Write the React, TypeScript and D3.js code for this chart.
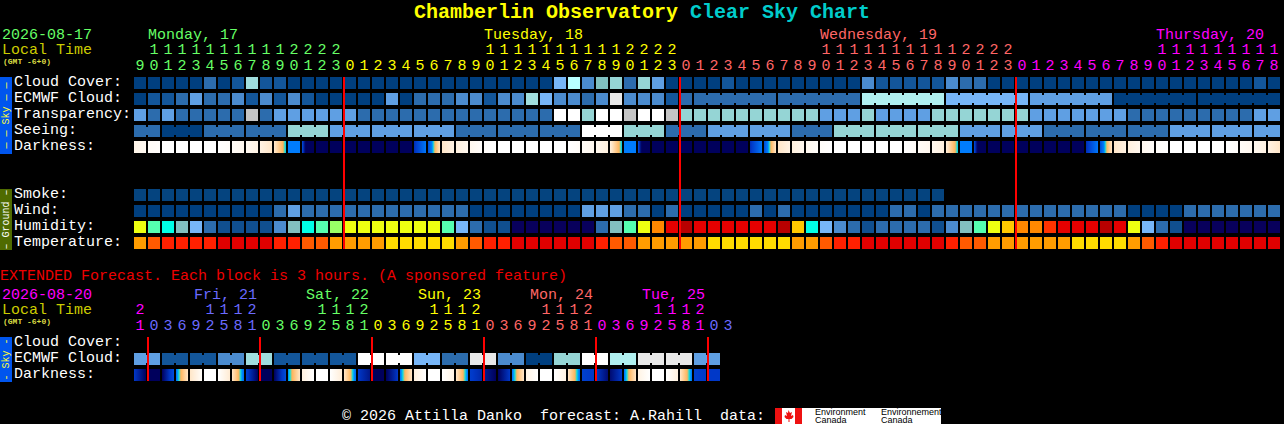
import React from "react";
import * as d3 from "d3";

const WIDTH = 1284;
const HEIGHT = 424;
const MONO = "'Liberation Mono', monospace";

// level -> colour, shared by the sky rows
const LEVEL_COLORS = [
  "#003f7f", "#13569a", "#2c6cad", "#4b8bce", "#5f9fe3", "#77b6f8", "#80c0c0",
  "#95d5d5", "#a0dede", "#b0f0f0", "#e8e8e8", "#c4c4c4", "#ffffff", "#b8ffff", "#05447f",
];
const HUMIDITY_COLORS = [
  "#08005c", "#104f8f", "#2c6cad", "#4b8bce", "#77b6f8", "#82bfbf", "#00ffe6", "#55ffb0",
  "#99ff66", "#eeff11", "#ffc800", "#ff8800", "#ff3300", "#e60000", "#b80000",
];
const TEMPERATURE_COLORS = ["#e00000", "#ff2000", "#ff5a00", "#ff9c00", "#ffdc00"];
const DARKNESS_COLORS = ["#ffffff", "#ffe6c8", "#ffb45a", "#00e4e4", "#0080ff", "#0038c8", "#00005c"];
const DARKNESS_STEPS = [0, 1, 2.6, 3, 3.4, 5, 6];

const hours = [
  9, 10, 11, 12, 13, 14, 15, 16, 17, 18, 19, 20, 21, 22, 23,
  0, 1, 2, 3, 4, 5, 6, 7, 8, 9, 10, 11, 12, 13, 14, 15, 16, 17, 18, 19, 20, 21, 22, 23,
  0, 1, 2, 3, 4, 5, 6, 7, 8, 9, 10, 11, 12, 13, 14, 15, 16, 17, 18, 19, 20, 21, 22, 23,
  0, 1, 2, 3, 4, 5, 6, 7, 8, 9, 10, 11, 12, 13, 14, 15, 16, 17, 18,
];
const dayNames = ["Monday, 17", "Tuesday, 18", "Wednesday, 19", "Thursday, 20"];
const dayColors = ["#66ff66", "#ffff00", "#ff6666", "#ff00ff"];

const cloudCover = [
  0, 0, 0, 0, 0, 2, 0, 1, 8, 1, 1, 0, 0, 0, 0,
  0, 0, 0, 0, 0, 0, 0, 0, 0, 0, 0, 0, 0, 0, 0, 5, 13, 3, 6, 7, 2, 7, 4, 0,
  0, 0, 0, 1, 0, 0, 0, 0, 0, 0, 0, 0, 0, 3, 1, 1, 1, 1, 1, 3, 2, 2, 0, 0,
  0, 0, 0, 0, 0, 0, 0, 0, 0, 0, 0, 0, 0, 0, 0, 0, 0, 1, 0,
];
const ecmwfCloud = [
  0, 1, 1, 2, 4, 2, 2, 3, 1, 3, 1, 3, 1, 0, 0,
  0, 0, 0, 4, 0, 2, 2, 2, 3, 3, 1, 3, 3, 8, 5, 3, 3, 2, 3, 10, 3, 3, 3, 1,
  2, 2, 2, 2, 2, 2, 2, 2, 2, 2, 2, 2, 2, 9, 9, 9, 9, 9, 9, 5, 5, 5, 5, 5,
  5, 4, 4, 4, 4, 4, 4, 0, 0, 0, 0, 0, 0, 0, 0, 0, 0, 0, 0,
];
const ecmwfBlocks = [
  1, 1, 1, 1, 1, 1, 1, 1, 1, 1, 1, 1, 1, 1, 1, 1, 1, 1, 1, 1,
  1, 1, 1, 1, 1, 1, 1, 1, 1, 1, 1, 1, 1, 1, 1, 1, 1, 1, 1, 1,
  6, 6, 6, 6, 6, 6, 6,
];
const transparency = [
  4, 2, 4, 2, 2, 2, 2, 2, 11, 2, 4, 4, 4, 4, 4,
  4, 2, 2, 2, 2, 2, 2, 2, 2, 2, 2, 2, 2, 2, 2, 12, 12, 7, 12, 12, 11, 12, 12, 11,
  7, 7, 7, 7, 7, 7, 7, 7, 7, 7, 4, 4, 4, 7, 4, 4, 4, 4, 7, 7, 7, 7, 7, 7,
  7, 4, 4, 4, 4, 4, 4, 4, 2, 2, 2, 2, 2, 2, 2, 2, 2, 4, 4,
];
const seeingLevels = [
  2, 0, 2, 2, 7, 4, 4, 4, 2, 2, 2, 12, 7, 2, 4, 4, 2, 7, 7, 7, 4, 4, 2, 2, 2, 4, 4, 4,
];
const seeingBlocks = [
  2, 3, 3, 3, 3, 3, 3, 3, 3, 3, 3, 3, 3, 3, 3, 3, 3, 3, 3, 3, 3, 3, 3, 3, 3, 3, 3, 2,
];
// darkness at the left and right edge of every block
const darknessStart = [
  0.4, 0.15, 0, 0, 0, 0, 0, 0.15, 0.25, 0.5, 0.9, 3.5, 4.5, 6, 6,
  6, 6, 6, 6, 6, 5.2, 4.6, 1, 0.6, 0.3, 0.1, 0, 0, 0, 0, 0, 0, 0.15, 0.3, 0.6, 3.5, 4.5, 6, 6,
  6, 6, 6, 6, 6, 5.2, 4.6, 1, 0.6, 0.3, 0.1, 0, 0, 0, 0, 0, 0, 0.15, 0.3, 0.7, 3.5, 4.5, 6, 6,
  6, 6, 6, 6, 6, 5.2, 4.6, 1, 0.6, 0.3, 0.1, 0, 0, 0, 0, 0, 0.15, 0.3, 0.5,
];
const darknessEnd = [
  0.25, 0.08, 0, 0, 0, 0, 0.1, 0.3, 0.5, 1, 3.15, 3.5, 10, 6, 6,
  6, 6, 6, 6, 6, 3.6, 1, 0.5, 0.3, 0.1, 0, 0, 0, 0, 0, 0, 0.15, 0.3, 0.6, 3.15, 3.5, 10, 6, 6,
  6, 6, 6, 6, 6, 3.6, 1, 0.5, 0.3, 0.1, 0, 0, 0, 0, 0, 0, 0.15, 0.3, 0.6, 3.15, 3.5, 10, 6, 6,
  6, 6, 6, 6, 6, 3.6, 1, 0.5, 0.3, 0.1, 0, 0, 0, 0, 0, 0.1, 0.3, 0.5, 1,
];
const smoke = [
  14, 14, 14, 14, 14, 14, 14, 14, 14, 14, 14, 14, 14, 14, 14,
  14, 14, 14, 14, 14, 14, 14, 14, 14, 14, 14, 14, 14, 14, 14, 14, 14, 14, 14, 14, 14, 14, 14, 14,
  14, 14, 14, 14, 14, 14, 14, 14, 14, 14, 14, 14, 14, 14, 14, 14, 14, 14, 14,
];
const wind = [
  0, 0, 0, 0, 0, 0, 0, 0, 0, 0, 2, 4, 2, 2, 2,
  2, 2, 2, 2, 2, 2, 2, 2, 2, 0, 0, 0, 0, 0, 0, 0, 0, 4, 4, 4, 2, 2, 0, 2,
  0, 0, 0, 0, 0, 2, 0, 2, 0, 0, 0, 0, 0, 0, 0, 2, 2, 0, 2, 2, 2, 2, 2, 2,
  2, 2, 2, 2, 2, 2, 2, 2, 0, 0, 0, 0, 2, 2, 2, 2, 2, 2, 2,
];
const humidity = [
  9, 7, 6, 5, 4, 2, 1, 1, 1, 1, 3, 5, 6, 7, 8,
  9, 9, 9, 9, 9, 9, 9, 7, 4, 2, 1, 1, 0, 0, 0, 0, 0, 0, 2, 5, 7, 9, 11, 13,
  14, 13, 13, 13, 13, 13, 13, 14, 10, 6, 4, 3, 2, 1, 2, 2, 2, 2, 1, 3, 5, 7, 9, 10,
  11, 11, 12, 13, 13, 13, 14, 13, 9, 4, 2, 1, 0, 0, 0, 0, 0, 0, 0,
];
const temperature = [
  3, 2, 1, 1, 1, 1, 0, 0, 0, 0, 1, 1, 2, 2, 3,
  3, 3, 3, 4, 4, 4, 4, 4, 3, 2, 1, 1, 0, 0, 0, 0, 0, 0, 1, 2, 2, 3, 3, 3,
  3, 3, 4, 4, 4, 4, 4, 4, 3, 3, 2, 1, 1, 0, 0, 0, 0, 0, 0, 1, 2, 2, 3, 3,
  3, 3, 3, 3, 4, 4, 4, 4, 3, 2, 1, 0, 0, 0, 0, 0, 0, 0, 0,
];

const extHours = [
  21,
  0, 3, 6, 9, 12, 15, 18, 21,
  0, 3, 6, 9, 12, 15, 18, 21,
  0, 3, 6, 9, 12, 15, 18, 21,
  0, 3, 6, 9, 12, 15, 18, 21,
  0, 3, 6, 9, 12, 15, 18, 21,
  0, 3,
];
const extDayNames = ["Fri, 21", "Sat, 22", "Sun, 23", "Mon, 24", "Tue, 25"];
const extDayColors = ["#ff00ff", "#6a6aff", "#66ff66", "#ffff00", "#ff6666", "#ff00ff", "#6a6aff"];
const extEcmwf = [4, 1, 1, 3, 8, 1, 1, 1, 12, 12, 5, 2, 10, 3, 0, 7, 12, 9, 10, 10, 4];
const extBlocks = [2, 2, 2, 2, 2, 2, 2, 2, 2, 2, 2, 2, 2, 2, 2, 2, 2, 2, 2, 2, 2];
const extDarkStart = [
  5, 6, 6, 3.6, 1, 0, 0, 1, 4.8, 6, 6, 3.4, 0.6, 0, 0, 1, 5, 6, 6, 3.6, 0.6,
  0, 0, 1, 4.9, 5.5, 6, 3.6, 0.5, 0, 0, 1, 4.8, 5, 5.8, 3.6, 0.5, 0, 0, 1, 4.8, 5,
];
const extDarkEnd = [
  6, 6, 4.5, 1, 0.1, 0, 0.8, 3.8, 6, 6, 4.5, 1, 0, 0, 0.7, 3.8, 5.6, 6, 5, 1, 0,
  0, 0.5, 3.6, 5.3, 6, 5, 1, 0, 0, 0.5, 3.7, 5, 5.8, 5, 1, 0, 0, 0.6, 3.6, 5, 5,
];

const COL_WIDTH = 12;
const x = d3.scaleLinear().domain([0, 82]).range([134, 134 + 82 * 14]);
const rowY = d3.scaleLinear().domain([0, 1]).range([0, 16]);
const levelColor = d3.scaleOrdinal<number, string>().domain(d3.range(LEVEL_COLORS.length)).range(LEVEL_COLORS);
const humidityColor = d3.scaleOrdinal<number, string>().domain(d3.range(HUMIDITY_COLORS.length)).range(HUMIDITY_COLORS);
const temperatureColor = d3.scaleOrdinal<number, string>().domain(d3.range(TEMPERATURE_COLORS.length)).range(TEMPERATURE_COLORS);
const darknessColor = d3.scaleLinear<string>().domain(DARKNESS_STEPS).range(DARKNESS_COLORS).clamp(true);

function expand(values: number[], blocks: number[]) {
  return d3.merge<number>(values.map((v, k) => d3.range(blocks[k]).map(() => v)));
}

// joined blocks get a narrow bridge across the gap between two cells
function Cells({ values, color, top, blocks }: { values: number[]; color: (v: number) => string; top: number; blocks?: number[] }) {
  const ends = new Set(d3.cumsum(blocks || values.map(() => 1)));
  return (
    <g shapeRendering="crispEdges">
      {values.map((v, i) => (
        <g key={i}>
          <rect x={x(i)} y={top} width={COL_WIDTH} height={COL_WIDTH} fill={color(v)} />
          {!ends.has(i + 1) && <rect x={x(i) + COL_WIDTH} y={top + 2} width={x(1) - x(0) - COL_WIDTH} height={8} fill={color(v)} />}
        </g>
      ))}
    </g>
  );
}

function Darkness({ starts, ends, top, id }: { starts: number[]; ends: number[]; top: number; id: string }) {
  const stops = d3.range(0, 1.001, 1 / 12);
  return (
    <g shapeRendering="crispEdges">
      <defs>
        {starts.map((s, i) => (
          <linearGradient key={i} id={`${id}${i}`}>
            {stops.map((t) => (
              <stop key={t} offset={t} stopColor={darknessColor(s + (ends[i] - s) * t)} />
            ))}
          </linearGradient>
        ))}
      </defs>
      {starts.map((_, i) => (
        <rect key={i} x={x(i)} y={top} width={COL_WIDTH} height={COL_WIDTH} fill={`url(#${id}${i})`} />
      ))}
    </g>
  );
}

function HourLabels({ values, colors, tensY, onesY }: { values: number[]; colors: string[]; tensY: number; onesY: number }) {
  let day = 0;
  return (
    <g fontFamily={MONO} fontSize={15} textAnchor="middle">
      {values.map((h, i) => {
        if (h === 0 && i > 0) day += 1;
        const cx = x(i) + COL_WIDTH / 2;
        return (
          <g key={i} fill={colors[day]}>
            {h >= 10 && <text x={cx} y={tensY}>{Math.floor(h / 10)}</text>}
            <text x={cx} y={onesY}>{h % 10}</text>
          </g>
        );
      })}
    </g>
  );
}

function RowLabels({ labels, top }: { labels: string[]; top: number }) {
  return (
    <g fontFamily={MONO} fontSize={15} fill="#ffffff">
      {labels.map((l, i) => (
        <text key={l} x={14} y={top + rowY(i) + 9}>{l}</text>
      ))}
    </g>
  );
}

function SideBar({ y, height, fill, color, label }: { y: number; height: number; fill: string; color: string; label: string }) {
  return (
    <g>
      <rect x={0} y={y} width={12} height={height} fill={fill} shapeRendering="crispEdges" />
      <text
        transform={`translate(9,${y + height / 2}) rotate(-90)`}
        textAnchor="middle"
        fontFamily={MONO}
        fontSize={10}
        fill={color}
        xmlSpace="preserve"
      >
        {label}
      </text>
    </g>
  );
}

function TimeHeader({ date, dateColor, y }: { date: string; dateColor: string; y: number }) {
  return (
    <g fontFamily={MONO}>
      <text x={2} y={y} fontSize={15} fill={dateColor}>{date}</text>
      <text x={2} y={y + 15} fontSize={15} fill="#cccc00">Local Time</text>
      <text x={3} y={y + 25} fontSize={8} fontWeight="bold" fill="#dddd44">(GMT -6+0)</text>
    </g>
  );
}

export default function App() {
  const SKY = 77;
  const GROUND = 189;
  const EXT = 337;

  const midnights = hours.flatMap((h, i) => (h === 0 ? [i] : []));
  const tenAm = hours.flatMap((h, i) => (h === 10 ? [i] : []));
  const extMidnights = extHours.flatMap((h, i) => (h === 0 && i < 42 ? [i] : []));
  const extNine = extHours.flatMap((h, i) => (h === 9 ? [i] : []));

  return (
    <svg width={WIDTH} height={HEIGHT} style={{ position: "absolute", left: 0, top: 0, display: "block" }}>
      <style>{"body{margin:0;background:#000}"}</style>
      <rect width={WIDTH} height={HEIGHT} fill="#000000" />

      <text x={414} y={18} fontFamily={MONO} fontSize={20} fontWeight="bold" fill="#ffff00">
        Chamberlin Observatory <tspan fill="#00cccc">Clear Sky Chart</tspan>
      </text>

      <TimeHeader date="2026-08-17" dateColor="#66ff66" y={39} />
      <g fontFamily={MONO} fontSize={15}>
        {tenAm.map((col, i) => (
          <text key={col} x={x(col)} y={39} fill={dayColors[i]}>{dayNames[i]}</text>
        ))}
      </g>
      <HourLabels values={hours} colors={dayColors} tensY={54} onesY={70} />

      <SideBar y={77} height={77} fill="#0055ee" color="#ffff33" label="— — Sky — —" />
      <RowLabels labels={["Cloud Cover:", "ECMWF Cloud:", "Transparency:", "Seeing:", "Darkness:"]} top={SKY} />
      <Cells values={cloudCover} color={levelColor} top={SKY + rowY(0)} />
      <Cells values={ecmwfCloud} color={levelColor} top={SKY + rowY(1)} blocks={ecmwfBlocks} />
      <Cells values={transparency} color={levelColor} top={SKY + rowY(2)} />
      <Cells values={expand(seeingLevels, seeingBlocks)} color={levelColor} top={SKY + rowY(3)} blocks={seeingBlocks} />
      <Darkness starts={darknessStart} ends={darknessEnd} top={SKY + rowY(4)} id="dark" />

      <SideBar y={189} height={61} fill="#4f6b00" color="#ffffff" label="– Ground –" />
      <RowLabels labels={["Smoke:", "Wind:", "Humidity:", "Temperature:"]} top={GROUND} />
      <Cells values={smoke} color={levelColor} top={GROUND + rowY(0)} />
      <Cells values={wind} color={levelColor} top={GROUND + rowY(1)} />
      <Cells values={humidity} color={humidityColor} top={GROUND + rowY(2)} />
      <Cells values={temperature} color={temperatureColor} top={GROUND + rowY(3)} />

      {midnights.map((col) => (
        <rect key={col} x={x(col) - 1} y={77} width={2} height={172} fill="#ff0000" shapeRendering="crispEdges" />
      ))}

      <text x={0} y={280} fontFamily={MONO} fontSize={15} fill="#ee0000">
        EXTENDED Forecast. Each block is 3 hours. (A sponsored feature)
      </text>
      <TimeHeader date="2026-08-20" dateColor="#ff00ff" y={299} />
      <g fontFamily={MONO} fontSize={15}>
        {extNine.map((col, i) => (
          <text key={col} x={x(col) + 4} y={299} fill={extDayColors[i + 1]}>{extDayNames[i]}</text>
        ))}
      </g>
      <HourLabels values={extHours} colors={extDayColors} tensY={314} onesY={330} />

      <SideBar y={337} height={45} fill="#0055ee" color="#ffff33" label="- Sky -" />
      <RowLabels labels={["Cloud Cover:", "ECMWF Cloud:", "Darkness:"]} top={EXT} />
      <Cells values={expand(extEcmwf, extBlocks)} color={levelColor} top={EXT + rowY(1)} blocks={extBlocks} />
      <Darkness starts={extDarkStart} ends={extDarkEnd} top={EXT + rowY(2)} id="extdark" />
      {extMidnights.map((col) => (
        <rect key={col} x={x(col) - 1} y={337} width={2} height={44} fill="#ff0000" shapeRendering="crispEdges" />
      ))}

      <text x={342} y={420} fontFamily={MONO} fontSize={15} fill="#ffffff" xmlSpace="preserve">
        © 2026 Attilla Danko  forecast: A.Rahill  data:
      </text>
      <g shapeRendering="crispEdges">
        <rect x={775} y={408} width={166} height={16} fill="#ffffff" />
        <rect x={775} y={408} width={7} height={16} fill="#ee1111" />
        <rect x={795} y={408} width={7} height={16} fill="#ee1111" />
      </g>
      <path d="M788.5 410l1.5 3 2-1-1 4 2-1 .5 2-2 2h-2v3h-1v-3h-2l-2-2 .5-2 2 1-1-4 2 1z" fill="#ee1111" />
      <g fontFamily="'Liberation Sans', sans-serif" fontSize={9} fill="#000000">
        <text x={815} y={415}>Environment</text>
        <text x={815} y={423}>Canada</text>
        <text x={881} y={415}>Environnement</text>
        <text x={881} y={423}>Canada</text>
      </g>
    </svg>
  );
}
